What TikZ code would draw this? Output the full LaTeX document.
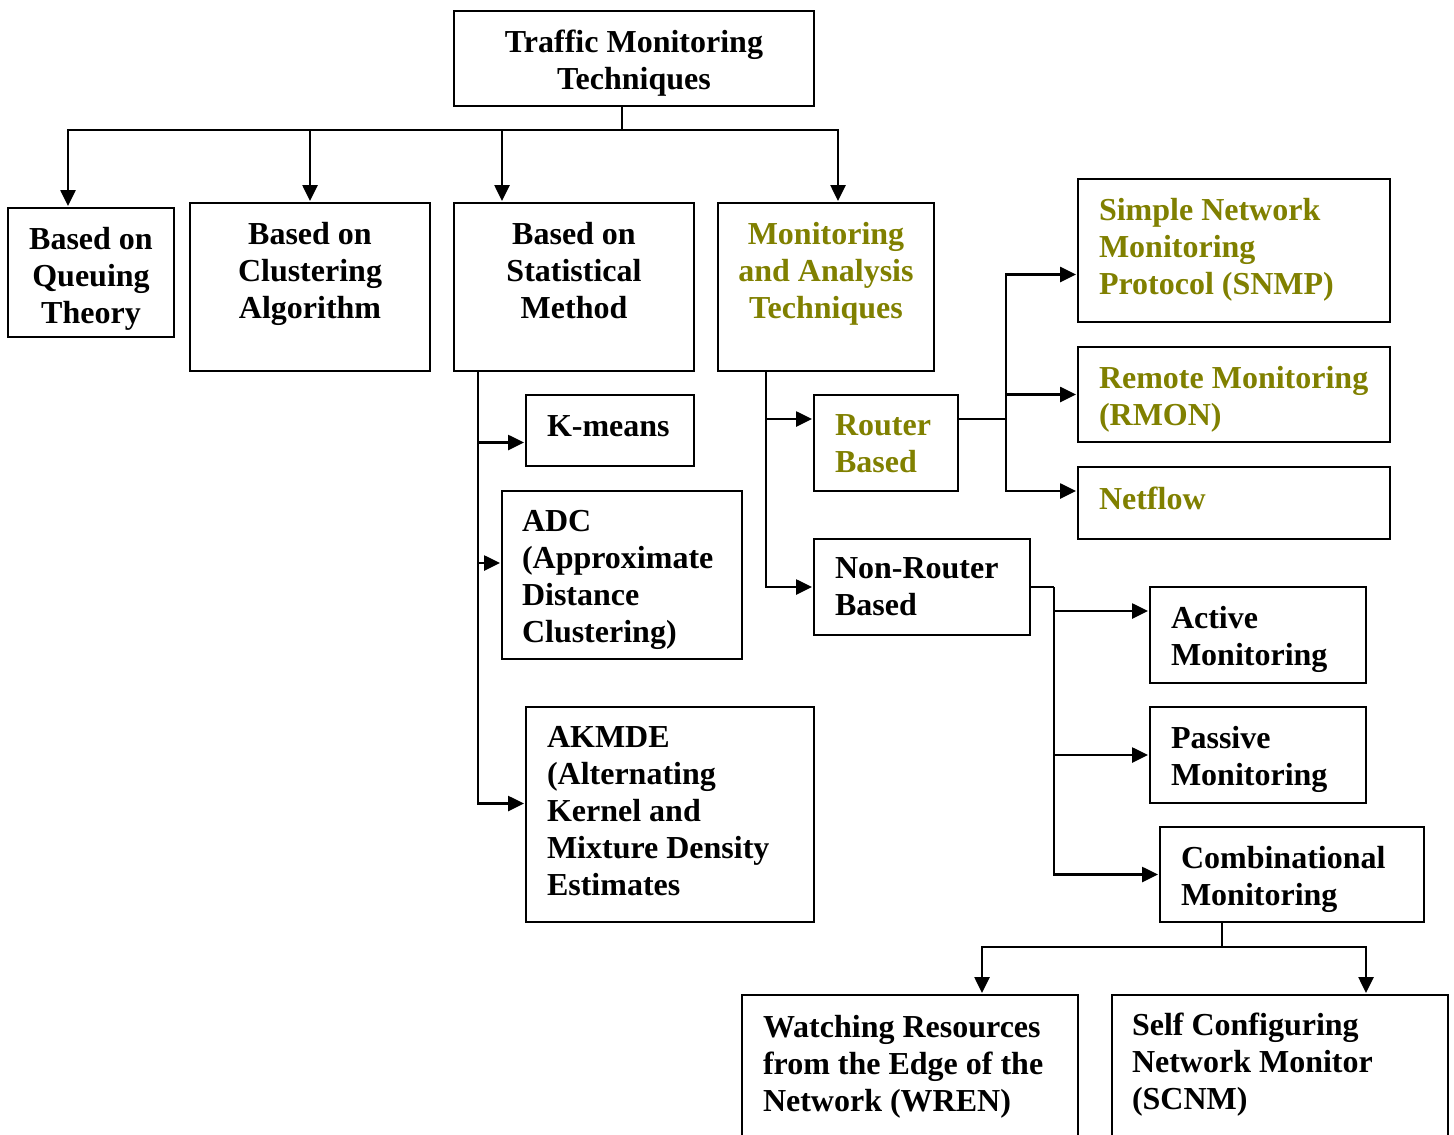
\documentclass[tikz,border=0pt]{standalone}
\usepackage{fontspec}
\setmainfont{Liberation Serif}
\usepackage{tikz}
\usetikzlibrary{arrows.meta}
\definecolor{olivetxt}{RGB}{128,128,0}
\tikzset{
    normal/.style={draw, line width=2pt},
    block/.style={style=normal, anchor=north west, inner sep=0, outer sep=0}, % boxes
    txt/.style={font=\fontsize{32}{37}\selectfont\bfseries, inner sep=0, outer sep=0},
    ctxt/.style={style=txt, anchor=north, align=center},
    ltxt/.style={style=txt, anchor=north west, align=left},
    wire/.style={line width=2.6pt},
    link/.style={style=wire, -{Triangle[length=16pt, width=15pt]}, shorten >=2pt} % arrow into a box
}

\begin{document}
\begin{tikzpicture}[x=1pt, y=-1pt]
  \path[use as bounding box, clip] (0,0) rectangle (1454,1135);

  % top row
  \node[block, minimum width=360, minimum height=95] (root) at (454,11) {};
  \node[ctxt] at (634,30) {Traffic Monitoring\\Techniques};
  \node[block, minimum width=166, minimum height=129] (queue) at (8,208) {};
  \node[ctxt] at (91,227) {Based on\\Queuing\\Theory};
  \node[block, minimum width=240, minimum height=168] (clust) at (190,203) {};
  \node[ctxt] at (310,222) {Based on\\Clustering\\Algorithm};
  \node[block, minimum width=240, minimum height=168] (stat) at (454,203) {};
  \node[ctxt] at (574,222) {Based on\\Statistical\\Method};
  \node[block, minimum width=216, minimum height=168] (mon) at (718,203) {};
  \node[ctxt, text=olivetxt] at (826,222) {Monitoring\\and Analysis\\Techniques};

  % statistical methods
  \node[block, minimum width=168, minimum height=71] (kmeans) at (526,395) {};
  \node[ltxt] at (547,416) {K-means};
  \node[block, minimum width=240, minimum height=168] (adc) at (502,491) {};
  \node[ltxt] at (522,510) {ADC\\(Approximate\\Distance\\Clustering)};
  \node[block, minimum width=288, minimum height=215] (akmde) at (526,707) {};
  \node[ltxt] at (547,726) {AKMDE\\(Alternating\\Kernel and\\Mixture Density\\Estimates};

  % monitoring techniques
  \node[block, minimum width=144, minimum height=96] (router) at (814,395) {};
  \node[ltxt, text=olivetxt] at (835,415) {Router\\Based};
  \node[block, minimum width=216, minimum height=96] (nonrouter) at (814,539) {};
  \node[ltxt] at (835,558) {Non-Router\\Based};

  \node[block, minimum width=312, minimum height=143] (snmp) at (1078,179) {};
  \node[ltxt, text=olivetxt] at (1099,198) {Simple Network\\Monitoring\\Protocol (SNMP)};
  \node[block, minimum width=312, minimum height=95] (rmon) at (1078,347) {};
  \node[ltxt, text=olivetxt] at (1099,366) {Remote Monitoring\\(RMON)};
  \node[block, minimum width=312, minimum height=72] (netflow) at (1078,467) {};
  \node[ltxt, text=olivetxt] at (1099,487) {Netflow};

  \node[block, minimum width=216, minimum height=96] (active) at (1150,587) {};
  \node[ltxt] at (1171,606) {Active\\Monitoring};
  \node[block, minimum width=216, minimum height=96] (passive) at (1150,707) {};
  \node[ltxt] at (1171,726) {Passive\\Monitoring};
  \node[block, minimum width=264, minimum height=95] (comb) at (1160,827) {};
  \node[ltxt] at (1181,846) {Combinational\\Monitoring};

  \node[block, minimum width=336, minimum height=170] (wren) at (742,995) {};
  \node[ltxt] at (763,1015) {Watching Resources\\from the Edge of the\\Network (WREN)};
  \node[block, minimum width=336, minimum height=170] (scnm) at (1112,995) {};
  \node[ltxt] at (1132,1013) {Self Configuring\\Network Monitor\\(SCNM)};

  % connectors
  \draw[wire] ([xshift=-12]root.south) -- ++(0,24) coordinate (bus);
  \draw[link] (bus) -| ([xshift=60]queue.north west);
  \draw[link] (bus) -| (clust.north);
  \draw[link] (bus) -| ([xshift=48]stat.north west);
  \draw[link] (bus) -| ([xshift=120]mon.north west);

  \coordinate (sstem) at ([xshift=24]stat.south west);
  \draw[link] (sstem) |- ([yshift=-12]kmeans.west);
  \draw[link] (sstem) |- ([yshift=12]adc.west);
  \draw[link] (sstem) |- ([yshift=11]akmde.west);

  \coordinate (mstem) at ([xshift=48]mon.south west);
  \draw[link] (mstem) |- ([yshift=24]router.west);
  \draw[link] (mstem) |- (nonrouter.west);

  \draw[wire] ([yshift=24]router.east) -- ++(48,0) coordinate (rfork);
  \draw[link] (rfork) |- ([yshift=-24]snmp.west);
  \draw[link] (rfork) |- (rmon.west);
  \draw[link] (rfork) |- ([yshift=12]netflow.west);

  \draw[wire] (nonrouter.east) -- ++(24,0) coordinate (nfork);
  \draw[link] (nfork) |- ([yshift=24]active.west);
  \draw[link] (nfork) |- (passive.west);
  \draw[link] (nfork) |- (comb.west);

  \draw[wire] ([xshift=62]comb.south west) -- ++(0,25) coordinate (cfork);
  \draw[link] (cfork) -| ([xshift=240]wren.north west);
  \draw[link] (cfork) -| ([xshift=254]scnm.north west);
\end{tikzpicture}
\end{document}
